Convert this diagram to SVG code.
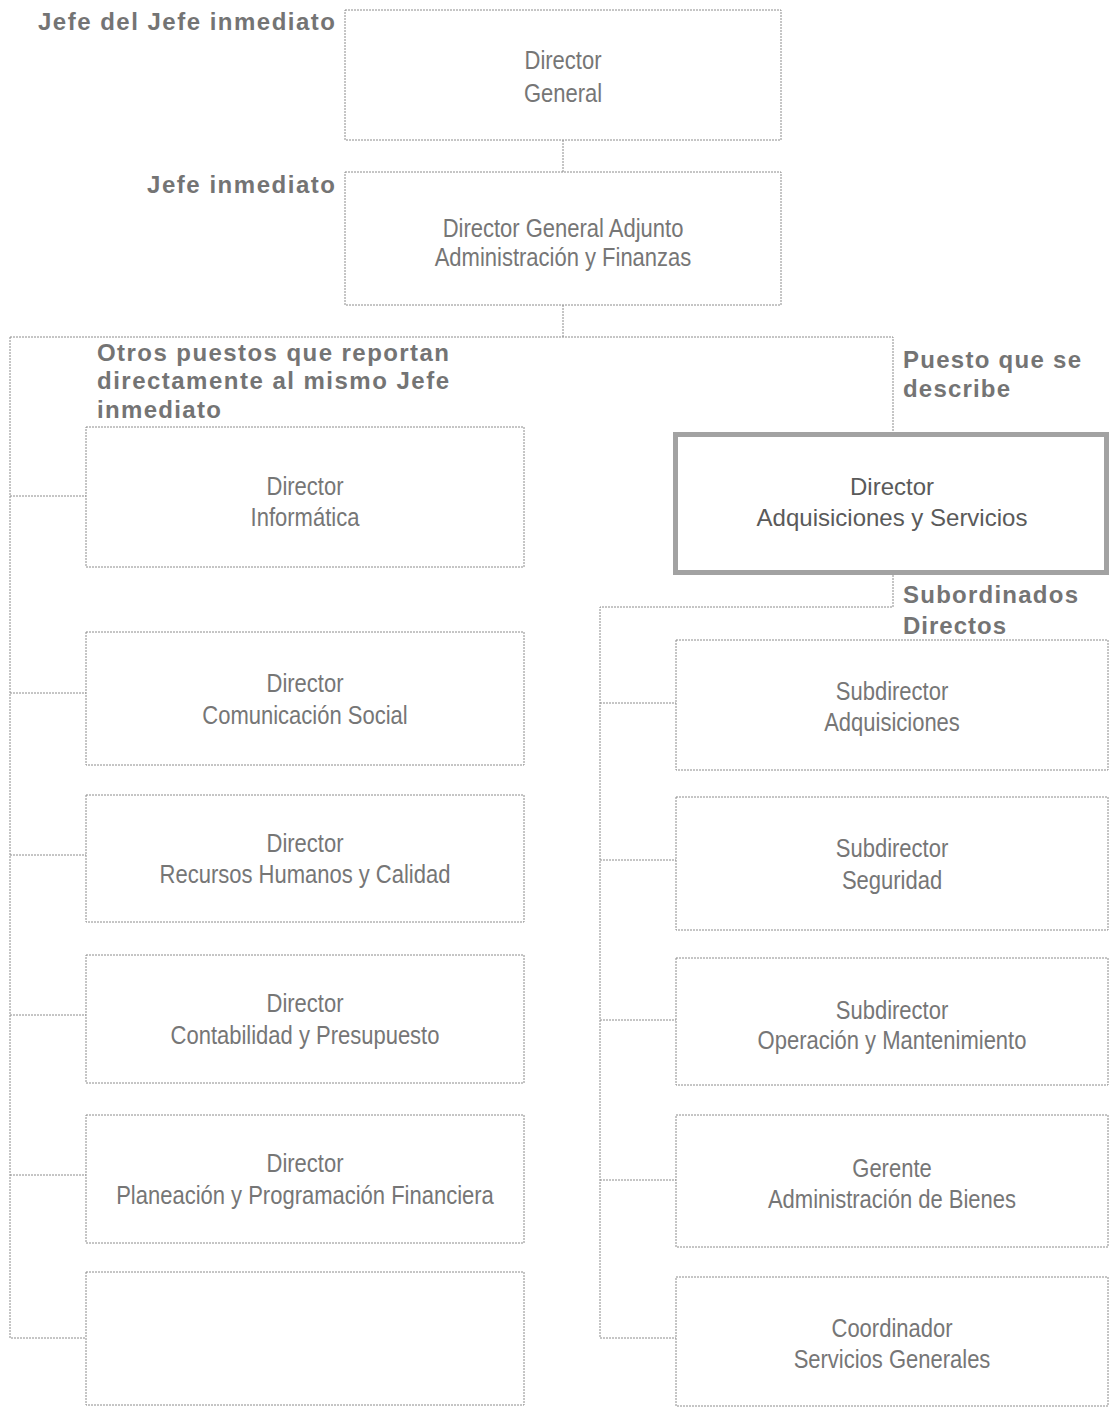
<svg xmlns="http://www.w3.org/2000/svg" width="1110" height="1407" viewBox="0 0 1110 1407">
<style>
  .box { fill: #ffffff; stroke: #8c8c8c; stroke-width: 1; stroke-dasharray: 2 1; }
  .hl { fill: #ffffff; stroke: #a2a2a2; stroke-width: 5; }
  .ln { fill: none; stroke: #8c8c8c; stroke-width: 1; stroke-dasharray: 2 1; }
  .t { font-family: "Liberation Sans", Arial, sans-serif; font-size: 25px; fill: #767676; text-anchor: middle; }
  .th { font-family: "Liberation Sans", Arial, sans-serif; font-size: 24px; fill: #5a5a5a; text-anchor: middle; }
  .lb { font-family: "Liberation Sans", Arial, sans-serif; font-size: 24px; font-weight: bold; fill: #747474; }
</style>
<rect width="1110" height="1407" fill="#ffffff"/>
<g id="connectors">
  <path class="ln" d="M563 140 V172"/>
  <path class="ln" d="M563 305 V337"/>
  <path class="ln" d="M10 337 H893 V432"/>
  <path class="ln" d="M10 337 V1338 H86"/>
  <path class="ln" d="M10 496 H86"/>
  <path class="ln" d="M10 693 H86"/>
  <path class="ln" d="M10 855 H86"/>
  <path class="ln" d="M10 1015 H86"/>
  <path class="ln" d="M10 1175 H86"/>
  <path class="ln" d="M893 575 V607 H600 V1338 H676"/>
  <path class="ln" d="M600 703 H676"/>
  <path class="ln" d="M600 860 H676"/>
  <path class="ln" d="M600 1020 H676"/>
  <path class="ln" d="M600 1180 H676"/>
</g>
<g id="labels">
  <text class="lb" x="38" y="30" textLength="297" lengthAdjust="spacing">Jefe del Jefe inmediato</text>
  <text class="lb" x="147" y="193" textLength="188" lengthAdjust="spacing">Jefe inmediato</text>
  <text class="lb" x="97" y="361" textLength="352" lengthAdjust="spacing">Otros puestos que reportan</text>
  <text class="lb" x="97" y="389" textLength="352" lengthAdjust="spacing">directamente al mismo Jefe</text>
  <text class="lb" x="97" y="418" textLength="124" lengthAdjust="spacing">inmediato</text>
  <text class="lb" x="903" y="368" textLength="178" lengthAdjust="spacing">Puesto que se</text>
  <text class="lb" x="903" y="397" textLength="107" lengthAdjust="spacing">describe</text>
  <text class="lb" x="903" y="603" textLength="175" lengthAdjust="spacing">Subordinados</text>
  <text class="lb" x="903" y="634" textLength="103" lengthAdjust="spacing">Directos</text>
</g>
<g id="n-dg">
  <rect class="box" x="345" y="10" width="436" height="130"/>
  <text class="t" transform="matrix(0.88 0 0 1 563 69)">Director</text>
  <text class="t" transform="matrix(0.88 0 0 1 563 102)">General</text>
</g>
<g id="n-dga">
  <rect class="box" x="345" y="172" width="436" height="133"/>
  <text class="t" transform="matrix(0.88 0 0 1 563 237)">Director General Adjunto</text>
  <text class="t" transform="matrix(0.88 0 0 1 563 266)">Administración y Finanzas</text>
</g>
<g id="n-inf">
  <rect class="box" x="86" y="427" width="438" height="140"/>
  <text class="t" transform="matrix(0.88 0 0 1 305 495)">Director</text>
  <text class="t" transform="matrix(0.88 0 0 1 305 526)">Informática</text>
</g>
<g id="n-com">
  <rect class="box" x="86" y="632" width="438" height="133"/>
  <text class="t" transform="matrix(0.88 0 0 1 305 692)">Director</text>
  <text class="t" transform="matrix(0.88 0 0 1 305 724)">Comunicación Social</text>
</g>
<g id="n-rh">
  <rect class="box" x="86" y="795" width="438" height="127"/>
  <text class="t" transform="matrix(0.88 0 0 1 305 852)">Director</text>
  <text class="t" transform="matrix(0.88 0 0 1 305 883)">Recursos Humanos y Calidad</text>
</g>
<g id="n-cont">
  <rect class="box" x="86" y="955" width="438" height="128"/>
  <text class="t" transform="matrix(0.88 0 0 1 305 1012)">Director</text>
  <text class="t" transform="matrix(0.88 0 0 1 305 1044)">Contabilidad y Presupuesto</text>
</g>
<g id="n-plan">
  <rect class="box" x="86" y="1115" width="438" height="128"/>
  <text class="t" transform="matrix(0.88 0 0 1 305 1172)">Director</text>
  <text class="t" transform="matrix(0.88 0 0 1 305 1204)">Planeación y Programación Financiera</text>
</g>
<g id="n-empty">
  <rect class="box" x="86" y="1272" width="438" height="133"/>
</g>
<g id="n-adq">
  <rect class="hl" x="675.5" y="434.5" width="431" height="138"/>
  <text class="th" x="892" y="495">Director</text>
  <text class="th" x="892" y="526">Adquisiciones y Servicios</text>
</g>
<g id="n-sadq">
  <rect class="box" x="676" y="640" width="432" height="130"/>
  <text class="t" transform="matrix(0.88 0 0 1 892 700)">Subdirector</text>
  <text class="t" transform="matrix(0.88 0 0 1 892 731)">Adquisiciones</text>
</g>
<g id="n-seg">
  <rect class="box" x="676" y="797" width="432" height="133"/>
  <text class="t" transform="matrix(0.88 0 0 1 892 857)">Subdirector</text>
  <text class="t" transform="matrix(0.88 0 0 1 892 889)">Seguridad</text>
</g>
<g id="n-op">
  <rect class="box" x="676" y="958" width="432" height="127"/>
  <text class="t" transform="matrix(0.88 0 0 1 892 1019)">Subdirector</text>
  <text class="t" transform="matrix(0.88 0 0 1 892 1049)">Operación y Mantenimiento</text>
</g>
<g id="n-bienes">
  <rect class="box" x="676" y="1115" width="432" height="132"/>
  <text class="t" transform="matrix(0.88 0 0 1 892 1177)">Gerente</text>
  <text class="t" transform="matrix(0.88 0 0 1 892 1208)">Administración de Bienes</text>
</g>
<g id="n-sg">
  <rect class="box" x="676" y="1277" width="432" height="129"/>
  <text class="t" transform="matrix(0.88 0 0 1 892 1337)">Coordinador</text>
  <text class="t" transform="matrix(0.88 0 0 1 892 1368)">Servicios Generales</text>
</g>
</svg>
